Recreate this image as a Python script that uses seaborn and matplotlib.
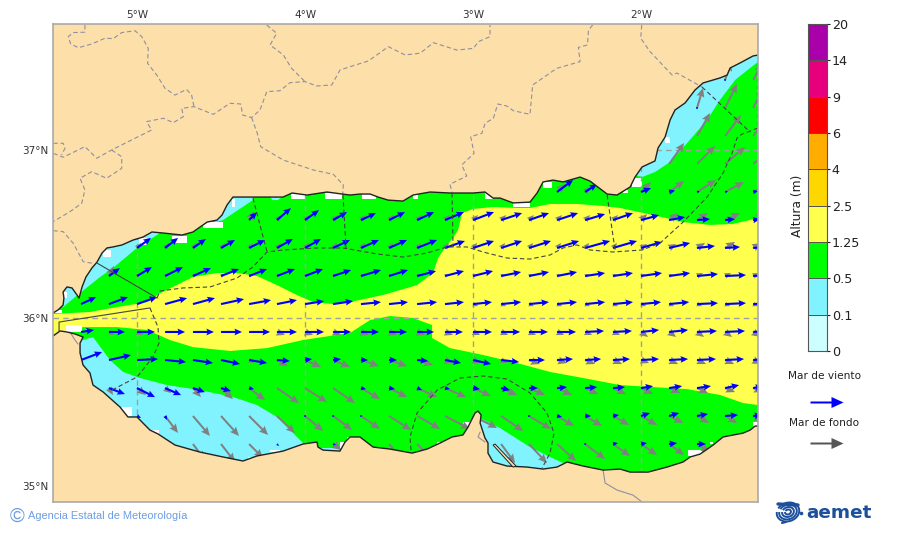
#coding: UTF-8
import numpy as np
import pandas as pd
import matplotlib
matplotlib.use('Agg')
import matplotlib.pyplot as plt
import seaborn as sns
from matplotlib.colors import ListedColormap
from matplotlib.patches import Arc

#altura de ola, escala de colores
levels = ['20', '14', '9', '6', '4', '2.5', '1.25', '0.5', '0.1', '0']
level_colors = ['#aa00aa', '#e6007e', '#ff0000', '#ffad00', '#ffd700', '#ffff4d', '#00ff00', '#80f3ff', '#ccffff']

lon_ticks = [-5, -4, -3, -2]
lon_labels = ['5°W', '4°W', '3°W', '2°W']
lat_ticks = [37, 36, 35]
lat_labels = ['37°N', '36°N', '35°N']

#costa
coast_north = [(-5.5,36.03),(-5.47,36.048),(-5.44,36.077),(-5.435,36.119),(-5.44,36.155),(-5.417,36.185),(-5.387,36.179),(-5.357,36.137),(-5.345,36.119),(-5.327,36.185),(-5.304,36.244),(-5.268,36.298),(-5.238,36.333),(-5.208,36.387),(-5.179,36.417),(-5.143,36.423),(-5.089,36.435),(-5.024,36.464),(-4.964,36.482),(-4.911,36.512),(-4.845,36.506),(-4.732,36.494),(-4.667,36.512),(-4.607,36.554),(-4.583,36.571),(-4.524,36.583),(-4.494,36.613),(-4.464,36.673),(-4.429,36.72),(-4.31,36.72),(-4.208,36.72),(-4.131,36.72),(-4.077,36.744),(-3.988,36.732),(-3.869,36.75),(-3.78,36.738),(-3.732,36.732),(-3.673,36.738),(-3.613,36.738),(-3.565,36.72),(-3.506,36.702),(-3.417,36.696),(-3.357,36.732),(-3.256,36.75),(-3.137,36.744),(-3.0,36.744),(-2.929,36.75),(-2.881,36.714),(-2.839,36.714),(-2.762,36.685),(-2.661,36.69),(-2.619,36.744),(-2.583,36.81),(-2.524,36.821),(-2.464,36.81),(-2.363,36.839),(-2.304,36.815),(-2.202,36.738),(-2.143,36.732),(-2.065,36.78),(-2.036,36.839),(-1.994,36.899),(-1.917,36.935),(-1.899,37.012),(-1.857,37.077),(-1.827,37.179),(-1.798,37.238),(-1.738,37.28),(-1.679,37.357),(-1.631,37.399),(-1.53,37.429),(-1.488,37.446),(-1.47,37.488),(-1.411,37.518),(-1.333,37.56),(-1.304,37.565)]
coast_south = [(-5.5,35.893),(-5.458,35.923),(-5.417,35.917),(-5.369,35.905),(-5.321,35.887),(-5.339,35.851),(-5.339,35.792),(-5.321,35.72),(-5.28,35.673),(-5.262,35.601),(-5.202,35.56),(-5.101,35.47),(-5.054,35.411),(-5.0,35.411),(-4.923,35.333),(-4.875,35.31),(-4.774,35.244),(-4.625,35.202),(-4.488,35.173),(-4.369,35.149),(-4.286,35.179),(-4.131,35.208),(-4.012,35.25),(-3.929,35.262),(-3.923,35.232),(-3.893,35.214),(-3.792,35.208),(-3.762,35.262),(-3.732,35.292),(-3.673,35.292),(-3.595,35.232),(-3.494,35.22),(-3.363,35.196),(-3.274,35.22),(-3.196,35.256),(-3.125,35.292),(-3.06,35.304),(-3.03,35.351),(-2.988,35.435),(-2.97,35.446),(-2.952,35.423),(-2.958,35.375),(-2.929,35.286),(-2.911,35.256),(-2.911,35.196),(-2.881,35.143),(-2.798,35.119),(-2.679,35.113),(-2.583,35.101),(-2.5,35.113),(-2.44,35.143),(-2.345,35.119),(-2.226,35.095),(-2.125,35.101),(-2.065,35.083),(-1.958,35.083),(-1.845,35.113),(-1.75,35.143),(-1.708,35.173),(-1.649,35.19),(-1.571,35.244),(-1.512,35.292),(-1.393,35.315),(-1.351,35.333),(-1.321,35.357),(-1.304,35.357)]
spit = [(-2.881,35.244),(-2.869,35.25),(-2.744,35.119),(-2.762,35.113)]

#zonas de altura
yellow_top = [(-5.5,36.024),(-5.28,36.036),(-5.119,36.065),(-4.94,36.095),(-4.881,36.137),(-4.786,36.185),(-4.667,36.244),(-4.524,36.268),(-4.405,36.268),(-4.286,36.25),(-4.167,36.196),(-4.048,36.137),(-3.952,36.095),(-3.833,36.083),(-3.732,36.095),(-3.536,36.137),(-3.333,36.196),(-3.238,36.268),(-3.208,36.357),(-3.155,36.435),(-3.119,36.476),(-3.089,36.524),(-3.065,36.625),(-3.0,36.649),(-2.881,36.661),(-2.738,36.655),(-2.661,36.655),(-2.542,36.679),(-2.381,36.679),(-2.226,36.667),(-2.125,36.655),(-1.929,36.613),(-1.75,36.571),(-1.589,36.554),(-1.452,36.56),(-1.304,36.595)]
yellow_bottom = [(-5.5,35.893),(-5.321,35.946),(-5.119,35.946),(-4.94,35.929),(-4.804,35.869),(-4.667,35.827),(-4.446,35.804),(-4.226,35.821),(-4.012,35.869),(-3.732,35.911),(-3.613,35.988),(-3.494,36.012),(-3.357,36.0),(-3.244,35.958),(-3.244,35.881),(-3.137,35.821),(-2.94,35.78),(-2.738,35.732),(-2.542,35.679),(-2.345,35.643),(-2.125,35.601),(-1.929,35.589),(-1.726,35.577),(-1.53,35.542),(-1.393,35.494),(-1.304,35.482)]
blue_nw = [(-5.44,36.065),(-5.339,36.149),(-5.22,36.244),(-5.143,36.298),(-5.0,36.417),(-4.863,36.506),(-4.863,36.554),(-5.22,36.464),(-5.458,36.226),(-5.488,36.077)]
blue_n2 = [(-4.488,36.583),(-4.31,36.702),(-4.31,36.762),(-4.446,36.762),(-4.536,36.571)]
blue_n3 = [(-4.208,36.726),(-4.131,36.726),(-4.161,36.702),(-4.196,36.702)]
blue_sw = [(-5.321,35.869),(-5.262,35.887),(-5.161,35.75),(-5.083,35.679),(-4.982,35.643),(-4.821,35.601),(-4.625,35.571),(-4.429,35.53),(-4.286,35.482),(-4.167,35.411),(-4.071,35.315),(-4.0,35.244),(-4.03,35.095),(-4.625,35.036),(-5.339,35.393),(-5.399,35.839)]
blue_s2 = [(-3.911,35.226),(-3.762,35.226),(-3.762,35.179),(-3.911,35.179)]
blue_bay = [(-2.958,35.405),(-2.839,35.345),(-2.661,35.232),(-2.542,35.173),(-2.464,35.137),(-2.423,35.065),(-2.958,35.065),(-3.018,35.333)]
blue_ne = [(-1.994,36.839),(-1.917,36.869),(-1.827,36.929),(-1.72,37.048),(-1.607,37.179),(-1.53,37.298),(-1.44,37.417),(-1.351,37.488),(-1.304,37.524),(-1.304,37.625),(-1.708,37.476),(-1.946,37.119),(-2.036,36.851)]

#celdas blancas junto a la costa: lon, lat, ancho, alto
white_lon = [-5.423,-5.44,-5.494,-5.202,-4.988,-4.792,-4.607,-4.435,-4.083,-3.881,-3.661,-3.357,-2.929,-2.762,-2.583,-2.107,-2.054,-5.089,-4.911,-4.339,-4.208,-3.792,-3.75,-3.214,-3.06,-1.857,-1.72,-1.589,-1.333]
white_lat = [35.917,36.119,36.03,36.363,36.435,36.446,36.536,36.661,36.708,36.708,36.708,36.708,36.708,36.661,36.774,36.744,36.78,35.417,35.31,35.161,35.202,35.226,35.232,35.238,35.345,37.042,35.179,35.25,35.357]
white_w = [.095,.024,.048,.048,.048,.089,.119,.018,.083,.101,.083,.03,.048,.101,.054,.03,.06,.06,.042,.03,.06,.042,.018,.048,.042,.03,.083,.018,.03]
white_h = [.042,.036,.018,.042,.042,.042,.036,.048,.036,.036,.03,.024,.036,.024,.036,.018,.054,.054,.024,.012,.012,.036,.06,.024,.036,.036,.036,.012,.024]

#fronteras
border_lines = [
    [(-5.31,37.744),(-5.31,37.701),(-5.379,37.699),(-5.409,37.675),(-5.395,37.631),(-5.349,37.609),(-5.27,37.631),(-5.191,37.665),(-5.141,37.663),(-5.091,37.699),(-5.012,37.71),(-4.972,37.675),(-4.933,37.605),(-4.937,37.516),(-4.883,37.447),(-4.833,37.367),(-4.774,37.327),(-4.705,37.361),(-4.675,37.327),(-4.661,37.258)],
    [(-5.498,36.98),(-5.439,36.957),(-5.31,37.02),(-5.24,36.951),(-5.151,37.0),(-5.012,37.07),(-4.913,37.119),(-4.943,37.169),(-4.843,37.189),(-4.784,37.163),(-4.724,37.199),(-4.734,37.248),(-4.661,37.258),(-4.546,37.212),(-4.447,37.278),(-4.383,37.274),(-4.371,37.208),(-4.318,37.193),(-4.268,37.238),(-4.228,37.347),(-4.149,37.353),(-4.089,37.401),(-4.0,37.407),(-3.931,37.381),(-3.841,37.387),(-3.792,37.476),(-3.732,37.496),(-3.623,37.53),(-3.504,37.615),(-3.405,37.566),(-3.315,37.576),(-3.236,37.639),(-3.097,37.595),(-2.998,37.605),(-2.968,37.645),(-2.899,37.675),(-2.899,37.744)],
    [(-4.228,37.744),(-4.169,37.695),(-4.208,37.625),(-4.129,37.566),(-4.08,37.486),(-4.0,37.407)],
    [(-4.318,37.193),(-4.284,37.099),(-4.264,37.02),(-4.129,36.94),(-3.95,36.881),(-3.831,36.855),(-3.772,36.792),(-3.776,36.732)],
    [(-5.151,37.0),(-5.091,36.96),(-5.091,36.891),(-5.181,36.832),(-5.27,36.871),(-5.339,36.832),(-5.31,36.762),(-5.329,36.683),(-5.399,36.633),(-5.498,36.574)],
    [(-5.498,36.52),(-5.439,36.514),(-5.379,36.444),(-5.32,36.335),(-5.26,36.325)],
    [(-5.498,37.04),(-5.439,37.04),(-5.429,37.01),(-5.449,36.97)],
    [(-2.288,37.744),(-2.313,37.714),(-2.319,37.625),(-2.373,37.611),(-2.363,37.526),(-2.502,37.486),(-2.645,37.387),(-2.661,37.212),(-2.76,37.234),(-2.799,37.262),(-2.853,37.274),(-2.879,37.189),(-2.928,37.159),(-2.948,37.099),(-3.014,37.08),(-2.994,36.98),(-3.067,36.911),(-3.038,36.845),(-3.137,36.796),(-3.125,36.744)],
    [(-1.996,37.744),(-2.002,37.665),(-1.946,37.585),(-1.815,37.446),(-1.786,37.458),(-1.637,37.375)],
]
solid_borders = [
    [(-2.226,35.095),(-2.214,35.018),(-2.143,34.976),(-2.048,34.946),(-1.994,34.905)],
    [(-5.399,35.917),(-5.369,35.869),(-5.351,35.845)],
    [(-2.958,35.321),(-2.97,35.292),(-2.929,35.262)],
]

#limites de zonas maritimas
limit_dashed = [
    [(-4.923,36.06),(-4.875,35.946),(-4.869,35.851),(-4.905,35.768),(-5.0,35.649),(-5.161,35.565)],
    [(-4.881,36.119),(-4.863,36.161),(-4.726,36.179),(-4.565,36.185),(-4.405,36.238),(-4.31,36.304),(-4.226,36.393),(-4.131,36.405),(-3.929,36.417),(-3.774,36.417),(-3.571,36.381),(-3.417,36.363),(-3.274,36.387),(-3.155,36.423),(-3.036,36.423),(-2.94,36.393),(-2.798,36.357),(-2.661,36.351),(-2.542,36.375),(-2.464,36.417),(-2.381,36.435),(-2.304,36.405),(-2.167,36.393),(-1.994,36.405),(-1.887,36.446),(-1.75,36.571),(-1.607,36.72),(-1.512,36.863),(-1.458,36.982),(-1.429,37.071),(-1.399,37.095),(-1.304,37.131)],
    [(-4.31,36.714),(-4.226,36.393)],
    [(-3.774,36.732),(-3.756,36.417)],
    [(-3.125,36.744),(-3.119,36.423)],
    [(-2.202,36.732),(-2.155,36.405)],
    [(-1.637,37.375),(-1.351,37.107)],
    [(-1.31,37.518),(-1.31,37.131)],
    [(-3.369,35.214),(-3.375,35.292),(-3.333,35.435),(-3.214,35.571),(-3.077,35.643),(-2.94,35.655),(-2.798,35.637),(-2.661,35.554),(-2.56,35.435),(-2.518,35.315),(-2.542,35.196),(-2.589,35.107)],
]
limit_solid = [
    [(-5.464,35.923),(-5.464,35.976),(-4.923,36.06)],
    [(-5.238,36.327),(-4.881,36.119)],
]

#rejilla de flechas, componentes
arrow_lats = [37.417, 37.25, 37.083, 36.917, 36.75, 36.583, 36.417, 36.25, 36.083, 35.917, 35.75, 35.583, 35.417, 35.25]
arrow_lons = [-5.333,-5.167,-5.0,-4.833,-4.667,-4.5,-4.333,-4.167,-4.0,-3.833,-3.667,-3.5,-3.333,-3.167,-3.0,-2.833,-2.667,-2.5,-2.333,-2.167,-2.0,-1.833,-1.667,-1.5,-1.333]

wind_u = [
[0,0,0,0,0,0,0,0,0,0,0,0,0,0,0,0,0,0,0,0,0,0,0,1,0],
[0,0,0,0,0,0,0,0,0,0,0,0,0,0,0,0,0,0,0,0,0,0,1,0,0],
[0,0,0,0,0,0,0,0,0,0,0,0,0,0,0,0,0,0,0,0,0,0,0,0,0],
[0,0,0,0,0,0,0,0,0,0,0,0,0,0,0,0,0,0,0,0,0,0,0,0,0],
[0,0,0,0,0,0,0,0,0,0,0,0,0,0,0,0,0,16,12,0,10,6,3,3,5],
[0,0,0,0,0,0,8,14,14,14,15,16,17,19,21,21,20,21,20,20,18,16,13,10,7],
[0,0,14,13,13,14,16,16,16,17,18,18,20,20,21,21,22,22,25,24,21,21,18,15,12],
[0,11,15,18,18,18,18,18,18,18,20,19,19,19,20,20,20,20,20,20,21,21,21,21,15],
[15,19,20,22,22,23,22,20,19,20,20,19,20,19,19,20,20,20,20,20,20,20,21,21,15],
[13,16,18,20,21,21,21,20,19,18,18,18,17,18,19,19,19,19,19,19,18,19,20,20,15],
[21,22,21,21,20,19,18,13,7,8,7,8,11,16,18,18,16,16,16,17,18,19,19,19,15],
[0,16,18,16,12,10,5,0,0,0,5,6,5,5,7,9,9,10,12,12,12,13,14,14,10],
[0,0,4,2,0,0,0,0,1,1,1,0,0,0,0,0,1,5,6,6,9,10,11,13,9],
[0,0,0,0,0,0,0,2,0,3,0,0,0,0,0,0,0,0,1,5,6,8,9,0,0],
]
wind_v = [
[0,0,0,0,0,0,0,0,0,0,0,0,0,0,0,0,0,0,0,0,0,0,0,1,0],
[0,0,0,0,0,0,0,0,0,0,0,0,0,0,0,0,0,0,0,0,0,0,-1,0,0],
[0,0,0,0,0,0,0,0,0,0,0,0,0,0,0,0,0,0,0,0,0,0,0,0,0],
[0,0,0,0,0,0,0,0,0,0,0,0,0,0,0,0,0,0,0,0,0,0,0,0,0],
[0,0,0,0,0,0,0,0,0,0,0,0,0,0,0,0,0,12,8,0,4,1.5,.5,.5,1],
[0,0,0,0,0,0,8,12,10,8,7,8,8,8,8,7,7,7,6,7,5,3,1,1,1],
[0,0,10,10,9,8,8,9,9,8,8,8,8,7,7,7,7,7,7,7,6,5,2,1,1],
[0,8,9,9,8,7,7,7,7,6,6,6,5,5,5,4,4,4,3,3,3,3,2,1,1],
[7,7,7,6,6,5,4,4,3,3,2,2,2,2,2,2,2,2,2,2,2,2,1,1,1],
[2,0,0,0,0,0,0,0,0,0,0,0,0,0,0,0,0,0,1,1,2,2,1,1,1],
[8,5,1,-2,-3,-4,-3,-1,1,1,0,0,-1,-3,-4,-2,0,1,1,1,1,1,1,1,1],
[0,-6,-9,-7,-4,-3,-1,0,0,0,-1,-1,-2,-1,-1,-2,0,1,1,1,2,2,2,3,2],
[0,0,-2,-4,0,0,0,0,0,0,0,0,0,0,0,0,0,-1,0,1,3,3,2,1,1],
[0,0,0,0,0,0,0,-2,0,-1,0,0,0,0,0,0,0,0,0,1,1,1,0,0,0],
]
swell_u = [
[0,0,0,0,0,0,0,0,0,0,0,0,0,0,0,0,0,0,0,0,0,0,0,6,9],
[0,0,0,0,0,0,0,0,0,0,0,0,0,0,0,0,0,0,0,0,0,0,6,12,10],
[0,0,0,0,0,0,0,0,0,0,0,0,0,0,0,0,0,0,0,0,0,0,13,16,12],
[0,0,0,0,0,0,0,0,0,0,0,0,0,0,0,0,0,0,0,0,0,15,18,20,18],
[0,0,0,0,0,0,0,0,0,0,0,0,0,0,0,0,0,8,6,0,10,15,19,19,15],
[0,0,0,0,0,0,5,5,5,5,5,5,5,5,5,5,5,5,5,5,6,9,11,15,12],
[0,0,4,4,4,4,4,4,4,4,4,4,4,4,4,4,4,4,4,4,6,7,8,10,8],
[0,5,4,4,4,4,4,4,4,4,4,4,4,4,4,4,4,4,4,4,4,4,6,6,6],
[0,0,0,0,0,0,0,0,0,0,0,0,0,0,5,5,5,5,5,5,5,5,5,5,5],
[0,5,6,0,0,0,0,8,8,8,8,8,8,8,7,7,7,7,7,7,7,7,7,7,7],
[0,0,0,0,0,0,5,11,16,17,18,18,16,8,8,6,11,10,10,9,8,9,9,9,8],
[0,4,9,6,8,12,16,22,22,22,19,18,20,21,18,16,16,15,13,13,12,11,11,10,10],
[0,0,0,13,17,18,19,18,18,19,19,22,23,25,24,22,22,17,17,16,16,14,12,12,10],
[0,0,0,0,12,14,14,0,0,8,0,12,12,0,0,14,18,19,20,17,16,15,13,0,0],
]
swell_v = [
[0,0,0,0,0,0,0,0,0,0,0,0,0,0,0,0,0,0,0,0,0,0,0,18,16],
[0,0,0,0,0,0,0,0,0,0,0,0,0,0,0,0,0,0,0,0,0,0,20,24,20],
[0,0,0,0,0,0,0,0,0,0,0,0,0,0,0,0,0,0,0,0,0,0,23,21,16],
[0,0,0,0,0,0,0,0,0,0,0,0,0,0,0,0,0,0,0,0,0,21,18,17,15],
[0,0,0,0,0,0,0,0,0,0,0,0,0,0,0,0,0,8,5,0,10,11,12,10,8],
[0,0,0,0,0,0,9,5,5,5,5,5,5,5,5,5,5,5,5,5,6,7,7,7,6],
[0,0,5,5,5,5,5,5,5,5,5,5,5,5,5,5,5,5,5,5,4,4,5,6,5],
[0,10,2,2,2,2,2,2,2,2,2,2,2,2,2,2,2,2,2,2,2,2,3,3,3],
[0,0,0,0,0,0,0,0,0,0,0,0,0,0,-2,-2,-2,-2,-2,-2,-2,-2,-2,-2,-2],
[0,-3,-3,0,0,0,0,-3,-3,-3,-3,-3,-3,-3,-3,-3,-3,-3,-3,-3,-5,-5,-5,-5,-5],
[0,0,0,0,0,0,-3,-6,-7,-7,-6,-6,-5,-3,-3,-3,-4,-3,-4,-4,-3,-4,-4,-4,-4],
[0,-7,-7,-5,-9,-11,-12,-15,-14,-15,-11,-9,-9,-9,-8,-7,-7,-7,-6,-6,-6,-5,-5,-4,-4],
[0,0,0,-17,-20,-20,-19,-17,-15,-14,-13,-14,-13,-13,-12,-15,-13,-10,-10,-9,-9,-7,-7,-7,-5],
[0,0,0,0,-16,-18,-14,0,0,-6,0,-14,-12,0,0,-19,-19,-17,-15,-12,-11,-11,-8,0,0],
]

LAND = '#fddfa9'
LON_MIN, LON_MAX, LAT_MIN, LAT_MAX = -5.5, -1.304, 34.905, 37.75

def long_table(u_rows, v_rows):
    rows = []
    for i, lat in enumerate(arrow_lats):
        for j, lon in enumerate(arrow_lons):
            if u_rows[i][j] != 0 or v_rows[i][j] != 0:
                rows.append((lon, lat, u_rows[i][j], v_rows[i][j]))
    return pd.DataFrame(rows, columns=['lon', 'lat', 'u', 'v'])

def fill(ax, pts, color, z):
    pts = np.array(pts)
    ax.fill(pts[:, 0], pts[:, 1], color=color, lw=0, zorder=z)

def line(ax, pts, **kw):
    pts = np.array(pts)
    ax.plot(pts[:, 0], pts[:, 1], **kw)

sns.set_theme(style='white')
plt.rcParams['font.family'] = ['DejaVu Sans']
fig = plt.figure(figsize=(9, 5.33), dpi=100)

#mapa
ax = fig.add_axes([53/900, 31/533, 705/900, 478/533])
ax.set_facecolor('#00ff00')
ax.set_xlim(LON_MIN, LON_MAX)
ax.set_ylim(LAT_MIN, LAT_MAX)

fill(ax, yellow_top + yellow_bottom[::-1], level_colors[5], 1)
for zone in [blue_nw, blue_n2, blue_n3, blue_sw, blue_s2, blue_bay, blue_ne]:
    fill(ax, zone, level_colors[7], 1.5)
ax.bar(white_lon, white_h, white_w, bottom=white_lat, align='edge', color='white', lw=0, zorder=2)

swell = long_table(swell_u, swell_v)
wind = long_table(wind_u, wind_v)
ax.quiver(swell['lon'], swell['lat'], swell['u'], swell['v'], angles='xy', scale_units='xy', scale=168,
          units='dots', width=2.0, headwidth=4, headlength=4.5, headaxislength=4, color='#808080', zorder=3)
ax.quiver(wind['lon'], wind['lat'], wind['u'], wind['v'], angles='xy', scale_units='xy', scale=168,
          units='dots', width=2.1, headwidth=3.2, headlength=3.6, headaxislength=3.2, color='#0000ff', zorder=3.2)

fill(ax, coast_north + [(LON_MAX, LAT_MAX), (LON_MIN, LAT_MAX)], LAND, 4)
fill(ax, coast_south + [(LON_MAX, LAT_MIN), (LON_MIN, LAT_MIN)], LAND, 4)
line(ax, coast_north, color='#222222', lw=1.0, zorder=5)
line(ax, coast_south, color='#222222', lw=1.0, zorder=5)
spit_pts = np.array(spit)
ax.fill(spit_pts[:, 0], spit_pts[:, 1], facecolor=LAND, edgecolor='#222222', lw=0.7, zorder=5)

for b in border_lines:
    line(ax, b, color='#8f8fa0', lw=0.8, dashes=(4, 2.5), zorder=4.5)
for b in solid_borders:
    line(ax, b, color='#8f8fa0', lw=0.8, zorder=4.5)
for b in limit_dashed:
    line(ax, b, color='#444444', lw=0.8, dashes=(4, 2.5), zorder=6)
for b in limit_solid:
    line(ax, b, color='#444444', lw=0.8, zorder=6)

ax.set_xticks(lon_ticks)
ax.set_xticklabels(lon_labels)
ax.set_yticks(lat_ticks)
ax.set_yticklabels(lat_labels)
ax.xaxis.tick_top()
ax.tick_params(axis='both', length=0, pad=3, labelsize=7.5, colors='#333333')
ax.grid(True, color='#a0a0a0', lw=1, ls=(0, (4, 3)), zorder=7)
ax.set_axisbelow(False)
for s in ax.spines.values():
    s.set_color('#aaaaaa')
    s.set_linewidth(1.2)
    s.set_zorder(8)

#escala de colores
cax = fig.add_axes([808/900, (533-351)/533, 19/900, 327/533])
cells = np.arange(len(level_colors)).reshape(-1, 1)
sns.heatmap(cells, cmap=ListedColormap(level_colors), cbar=False, linewidths=0.5, linecolor='#555555',
            xticklabels=False, ax=cax)
cax.set_yticks(np.arange(len(levels)))
cax.set_yticklabels(levels, rotation=0, fontsize=9.2)
cax.yaxis.tick_right()
cax.tick_params(axis='y', length=2, width=0.8, pad=1.5, colors='#222222')
for s in cax.spines.values():
    s.set_visible(True)
    s.set_color('#555555')
    s.set_linewidth(0.8)

#textos, leyenda y logo
over = fig.add_axes([0, 0, 1, 1], facecolor='none')
over.set_xlim(0, 900)
over.set_ylim(533, 0)
over.axis('off')
over.text(798, 206, 'Altura (m)', rotation=90, ha='center', va='center', fontsize=8.8, color='#222222')
over.text(825, 376, 'Mar de viento', ha='center', va='center', fontsize=7.6, color='#222222')
over.text(824, 423, 'Mar de fondo', ha='center', va='center', fontsize=7.6, color='#222222')
over.quiver([810], [402], [33], [0], angles='xy', scale_units='xy', scale=1, units='dots', width=2,
            headwidth=5.5, headlength=6, headaxislength=6, color='#0000ff')
over.quiver([810], [443], [33], [0], angles='xy', scale_units='xy', scale=1, units='dots', width=2,
            headwidth=5.5, headlength=6, headaxislength=6, color='#555555')

foot = '#6d9de3'
over.text(17, 516, '©', ha='center', va='center', fontsize=14.5, color=foot, family=['Liberation Sans'])
over.text(28, 516, 'Agencia Estatal de Meteorología', ha='left', va='center', fontsize=7.9, color=foot,
          family=['Liberation Sans'])

logo = '#1c4f9c'
over.text(806, 513, 'aemet', ha='left', va='center', fontsize=13.2, fontweight='bold', color=logo)
for r in [3, 6, 9, 11.5]:
    over.add_patch(Arc((788, 512), 2*r, 1.6*r, angle=-20, theta1=-140, theta2=200, color=logo, lw=1.4))
over.plot([778, 798], [504, 505], color=logo, lw=2.4)
over.plot([782, 786], [523, 522], color=logo, lw=1.5)
over.plot([801], [513], 'o', color=logo, ms=1.6)

fig.savefig('out.png', dpi=100)
